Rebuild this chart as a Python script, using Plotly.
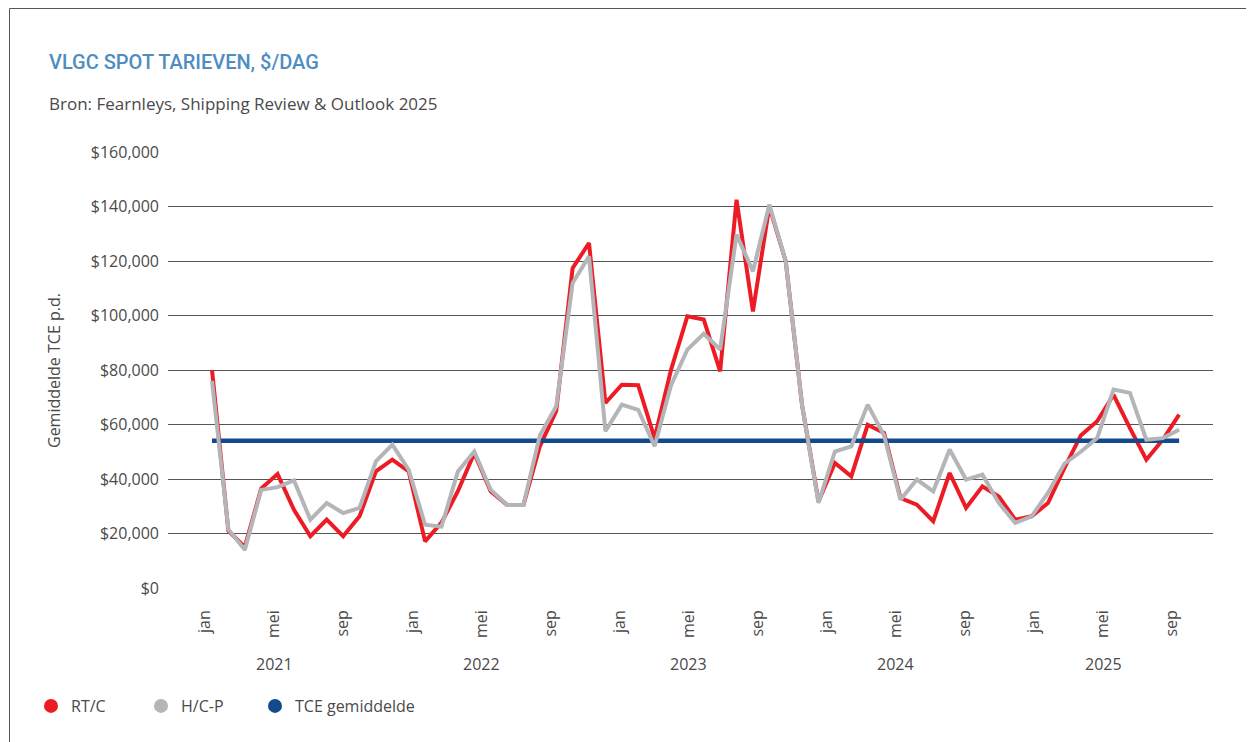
import plotly.graph_objects as go

# ---------------- data ----------------
rtc = [80000, 21000, 15000, 36500, 41800, 28700, 19000, 25100, 19000, 26300,
       42800, 47100, 42800, 17100, 24000, 35500, 49500, 35500, 30500, 30500,
       52000, 65000, 117400, 126600, 67900, 74600, 74400, 55000, 80000, 99700,
       98500, 79500, 142500, 101500, 140000, 119900, 67000, 31800, 45900, 41000,
       59900, 56900, 33000, 30600, 24500, 42200, 29400, 37300, 33600, 25100,
       26300, 31200, 44000, 56000, 61200, 70900, 58700, 47100, 54400, 63600]
hcp = [76000, 21500, 14000, 36000, 37000, 39500, 25100, 31200, 27500, 29400,
       46500, 52600, 43400, 23200, 22500, 42800, 50100, 36100, 30500, 30500,
       56000, 66700, 111900, 121700, 57500, 67300, 65400, 52000, 74300, 87500,
       93300, 87500, 129700, 116200, 140700, 119900, 67000, 31200, 50100, 52000,
       67300, 56000, 32400, 39800, 35500, 50800, 39800, 41600, 31200, 23900,
       26300, 34900, 45600, 50000, 55000, 72800, 71600, 54400, 55000, 58100]
tce_avg = 54000
month_labels = ["jan", "mei", "sep"] * 5
years = ["2021", "2022", "2023", "2024", "2025"]
span_months = 56  # jan 2021 .. sep 2025

# ---------------- geometry (page px -> figure) ----------------
OFF = 8  # default body margin of the html page
PW, PH = 1254, 742
W, H = PW - OFF, PH - OFF
L, R, T, B = 168 - OFF, PW - 1213, 152 - OFF, PH - 588
pw, ph = W - L - R, H - T - B

def px(xp):
    return (xp - OFF - L) / pw

def py(yp):
    return (H - B - (yp - OFF)) / ph

n = len(rtc)
xs = [i * span_months / (n - 1) for i in range(n)]
tick_shift = -0.4
tickvals = [4 * k + tick_shift for k in range(len(month_labels))]

RED, GRAY, BLUE = "#ED1C24", "#B4B5B9", "#124A8C"
FONT = "Open Sans, Lato, sans-serif"
TXT = "#4a4a4a"

fig = go.Figure()
fig.add_trace(go.Scatter(x=xs, y=rtc, mode="lines", line=dict(color=RED, width=4),
                         showlegend=False, name="RT/C"))
fig.add_trace(go.Scatter(x=xs, y=[tce_avg] * n, mode="lines", line=dict(color=BLUE, width=4.5),
                         showlegend=False, name="TCE gemiddelde"))
fig.add_trace(go.Scatter(x=xs, y=hcp, mode="lines", line=dict(color=GRAY, width=4),
                         showlegend=False, name="H/C-P"))
# legend entries (circles), one legend each so their spacing can match
leg_items = [("RT/C", RED, "legend", 55), ("H/C-P", GRAY, "legend2", 165),
             ("TCE gemiddelde", BLUE, "legend3", 279)]
legends = {}
for nm, c, lg, cx in leg_items:
    fig.add_trace(go.Scatter(x=[None], y=[None], mode="markers", name=nm, legend=lg,
                             marker=dict(color=c, size=14, symbol="circle")))
    legends[lg] = dict(orientation="h", x=px(cx - 24), y=py(706), xanchor="left",
                       yanchor="middle", font=dict(family=FONT, size=16, color=TXT),
                       itemwidth=30, bgcolor="rgba(0,0,0,0)")

x0m = (L + OFF - 212) / 17.27
x1m = (PW - R - 212) / 17.27

fig.update_layout(
    width=W, height=H,
    margin=dict(l=L, r=R, t=T, b=B),
    paper_bgcolor="white", plot_bgcolor="white",
    font=dict(family=FONT, size=16, color=TXT),
    xaxis=dict(range=[x0m, x1m], tickvals=tickvals, ticktext=month_labels,
               tickangle=-90, showgrid=False, zeroline=False, showline=False,
               ticks="", ticklabelstandoff=18,
               tickfont=dict(family=FONT, size=16, color=TXT)),
    yaxis=dict(range=[0, 160000], dtick=20000, tickprefix="$", tickformat=",d",
               showgrid=True, gridcolor="#555555", gridwidth=1, zeroline=False,
               showline=False, ticks="", ticklabelstandoff=8,
               tickfont=dict(family=FONT, size=16, color=TXT)),
    showlegend=True,
    **legends,
)

annotations = [
    dict(text="VLGC SPOT TARIEVEN, $/DAG", x=px(47), y=py(62), xref="paper", yref="paper",
         xanchor="left", yanchor="middle", showarrow=False,
         font=dict(family="Roboto, sans-serif", size=20, weight=500, color="#4F8DC1")),
    dict(text="Bron: Fearnleys, Shipping Review & Outlook 2025", x=px(47), y=py(103),
         xref="paper", yref="paper", xanchor="left", yanchor="middle", showarrow=False,
         font=dict(family=FONT, size=17, color=TXT)),
    dict(text="Gemiddelde TCE p.d.", x=px(54), y=py(371), xref="paper", yref="paper",
         xanchor="center", yanchor="middle", showarrow=False, textangle=-90,
         font=dict(family=FONT, size=16, color=TXT)),
]
for k, yr in enumerate(years):
    annotations.append(dict(text=yr, x=4 + 12 * k + tick_shift, y=py(664), xref="x", yref="paper",
                            xanchor="center", yanchor="middle", showarrow=False,
                            font=dict(family=FONT, size=16, color=TXT)))
fig.update_layout(annotations=annotations)

# frame lines (left and top)
fig.add_shape(type="line", xref="paper", yref="paper", x0=px(9.5), x1=px(9.5), y0=py(8.5), y1=py(PH),
              line=dict(color="#555555", width=1))
fig.add_shape(type="line", xref="paper", yref="paper", x0=px(9.5), x1=px(PW), y0=py(8.5), y1=py(8.5),
              line=dict(color="#555555", width=1))

fig.write_html("out.html")
